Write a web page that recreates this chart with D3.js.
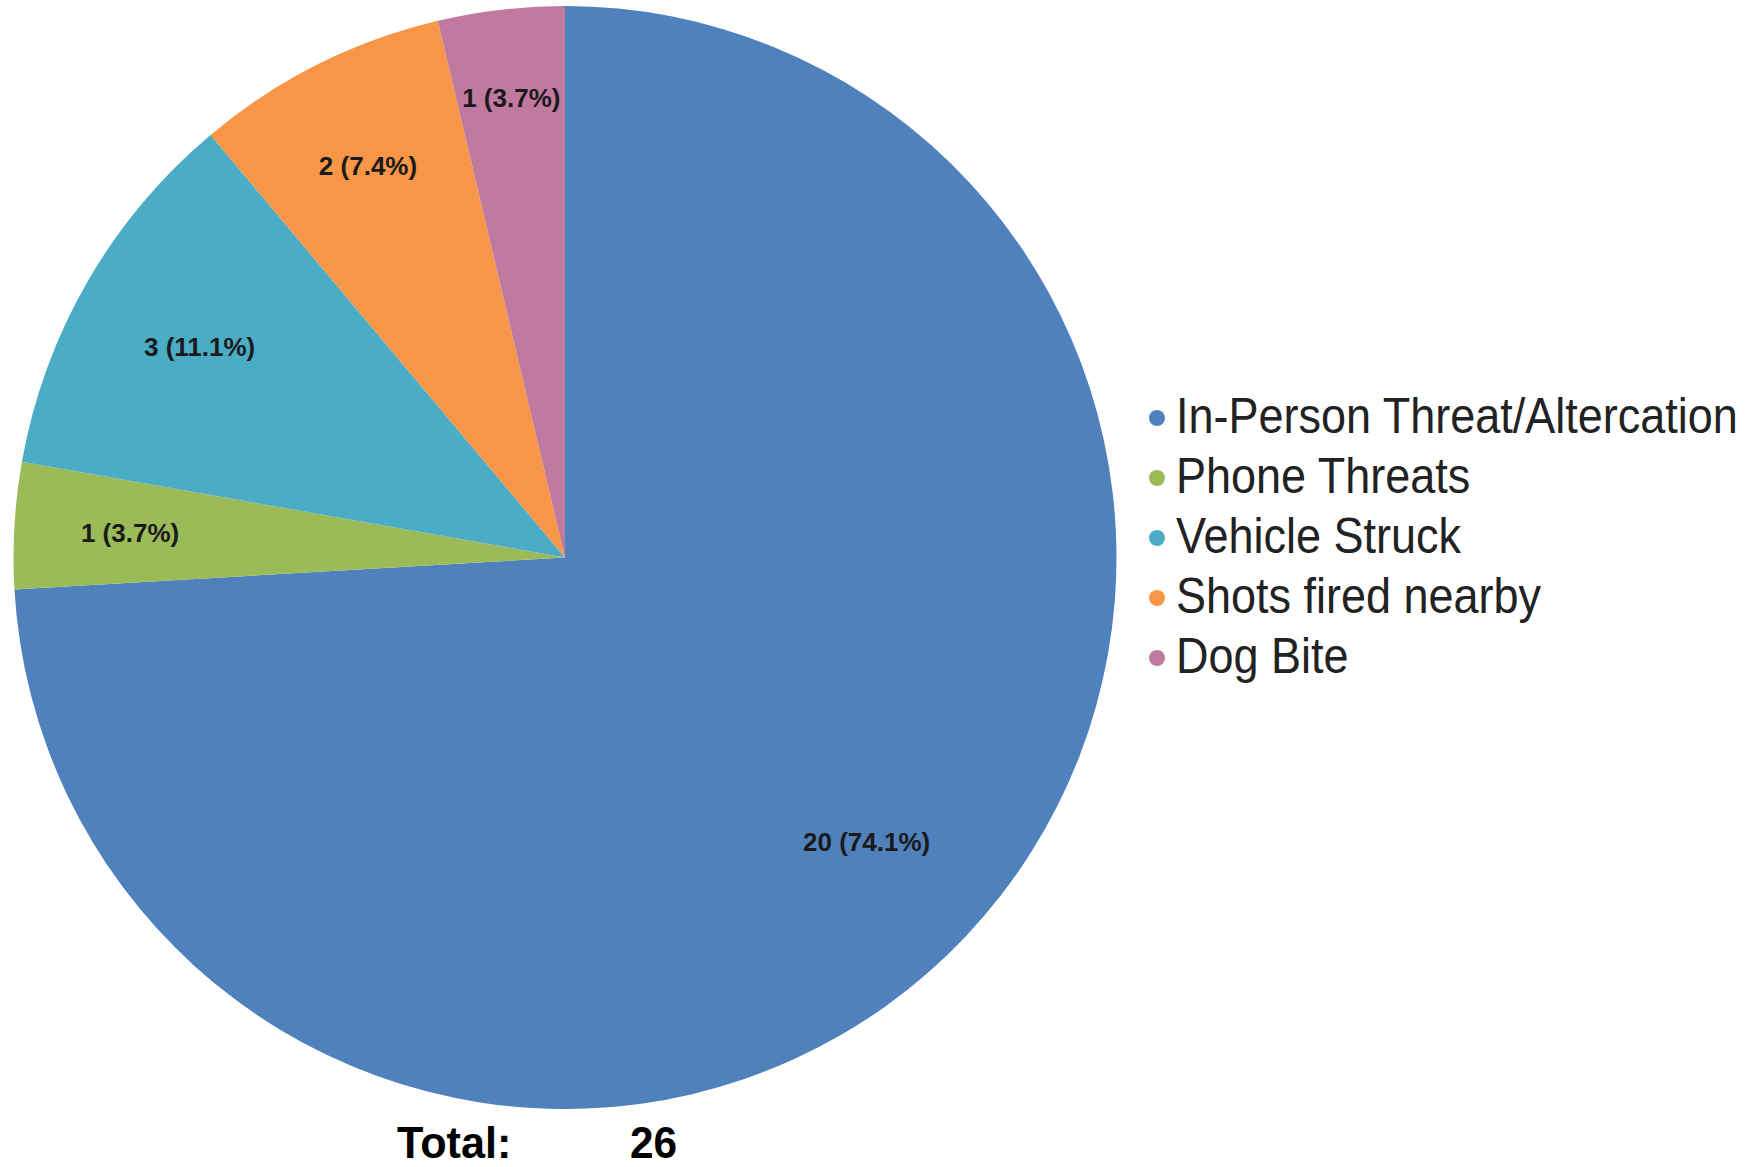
<!DOCTYPE html>
<html>
<head>
<meta charset="utf-8">
<script src="https://cdn.jsdelivr.net/npm/d3@7"></script>
<style>
  html, body { margin: 0; padding: 0; background: #fff; }
  svg { display: block; }
</style>
</head>
<body>
<svg id="chart" width="1757" height="1167"></svg>
<script>
// ---- data ----
const categories = ["In-Person Threat/Altercation", "Phone Threats", "Vehicle Struck", "Shots fired nearby", "Dog Bite"];
const values = [20, 1, 3, 2, 1];
const percentLabels = ["74.1%", "3.7%", "11.1%", "7.4%", "3.7%"];
const colors = ["#4F81BD", "#9BBB59", "#4BACC6", "#F79646", "#C0799F"];
const totalLabel = "Total:";
const totalValue = "26";

// ---- layout (not data) ----
const W = 1757, H = 1167;
const cx = 565, cy = 557.5, R = 551.5;
const labelRadiusFrac = [0.752, 0.79, 0.765, 0.796, 0.839];

const svg = d3.select("#chart");
const g = svg.append("g").attr("transform", `translate(${cx},${cy})`);

const pie = d3.pie().sort(null).value(d => d)(values);
const arc = d3.arc().innerRadius(0).outerRadius(R);

g.selectAll("path.slice")
  .data(pie)
  .join("path")
  .attr("class", "slice")
  .attr("d", arc)
  .attr("fill", (d, i) => colors[i]);

g.selectAll("text.lbl")
  .data(pie)
  .join("text")
  .attr("class", "lbl")
  .attr("transform", (d, i) => {
    const a = (d.startAngle + d.endAngle) / 2;
    const r = R * labelRadiusFrac[i];
    return `translate(${Math.sin(a) * r},${-Math.cos(a) * r})`;
  })
  .attr("text-anchor", "middle")
  .attr("dy", "0.36em")
  .attr("font-family", "Liberation Sans, Arial, sans-serif")
  .attr("font-weight", "bold")
  .attr("font-size", 26)
  .attr("fill", "#1a1a1a")
  .text((d, i) => `${values[i]} (${percentLabels[i]})`);

// ---- legend ----
const legend = svg.append("g").attr("transform", "translate(1157,418)");
const items = legend.selectAll("g.item")
  .data(categories)
  .join("g")
  .attr("class", "item")
  .attr("transform", (d, i) => `translate(0,${i * 60})`);
items.append("circle").attr("r", 8).attr("fill", (d, i) => colors[i]);
items.append("text")
  .attr("transform", "translate(19,15) scale(0.9,1)")
  .attr("font-family", "Liberation Sans, Arial, sans-serif")
  .attr("font-size", 50)
  .attr("fill", "#222")
  .text(d => d);

// ---- total ----
const tot = svg.append("g").attr("font-family", "Liberation Sans, Arial, sans-serif")
  .attr("font-weight", "bold").attr("font-size", 45).attr("fill", "#000");
tot.append("text").attr("transform", "translate(397,1158) scale(0.96,1)").text(totalLabel);
tot.append("text").attr("transform", "translate(630,1158) scale(0.94,1)").text(totalValue);
</script>
</body>
</html>
